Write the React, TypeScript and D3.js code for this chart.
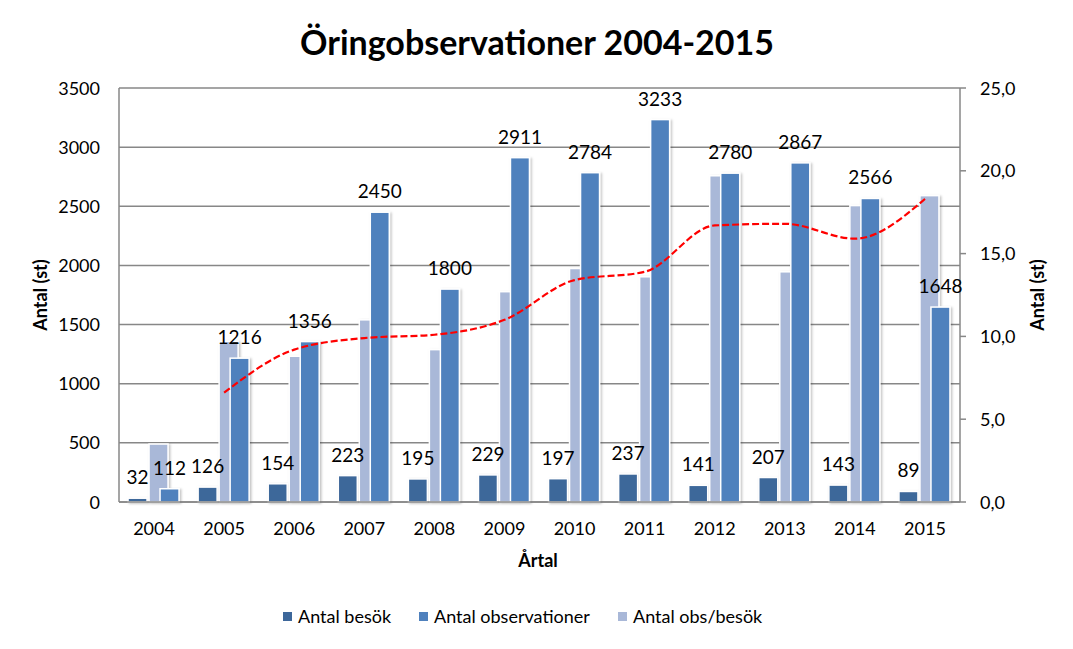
import React from "react";
import * as d3 from "d3";

const years = ["2004", "2005", "2006", "2007", "2008", "2009", "2010", "2011", "2012", "2013", "2014", "2015"];
const besok = [32, 126, 154, 223, 195, 229, 197, 237, 141, 207, 143, 89];
const observationer = [112, 1216, 1356, 2450, 1800, 2911, 2784, 3233, 2780, 2867, 2566, 1648];
const obsPerBesok = [3.5, 9.7, 8.8, 11.0, 9.2, 12.7, 14.1, 13.6, 19.7, 13.9, 17.9, 18.5];
const trendYears = ["2005", "2006", "2007", "2008", "2009", "2010", "2011", "2012", "2013", "2014", "2015"];
const trend = [6.6, 9.2, 9.9, 10.1, 11.0, 13.4, 13.9, 16.7, 16.8, 15.9, 18.3];
const leftTicks = [0, 500, 1000, 1500, 2000, 2500, 3000, 3500];
const rightTicks = [0, 5, 10, 15, 20, 25];
const seriesNames = ["Antal besök", "Antal observationer", "Antal obs/besök"];

const W = 1073;
const H = 649;
const FONT = "Lato, 'Open Sans', sans-serif";
const C_DARK = "#3D679A";
const C_MED = "#4F81BD";
const C_LIGHT = "#A9B8D8";
const GRID = "#878787";

export default function App() {
  const left = 119;
  const right = 960;
  const top = 88;
  const bottom = 502;
  const x = d3.scaleBand<string>().domain(years).range([left, right]).padding(0);
  const yL = d3.scaleLinear().domain([0, 3500]).range([bottom, top]);
  const yR = d3.scaleLinear().domain([0, 25]).range([bottom, top]);
  const cx = (yr: string) => (x(yr) as number) + x.bandwidth() / 2;
  const bw = 19;

  const line = d3
    .line<number>()
    .x((_, i) => cx(trendYears[i]))
    .y((d) => yR(d))
    .curve(d3.curveMonotoneX);

  const colors = [C_DARK, C_MED, C_LIGHT];
  const legendX = [283, 419, 618];

  return (
    <svg width={W} height={H} style={{ position: "absolute", left: 0, top: 0, background: "#fff" }} fontFamily={FONT}>
      <defs>
        <filter id="sh" x="-20%" y="-5%" width="150%" height="115%">
          <feDropShadow dx={1.5} dy={1} stdDeviation={1} floodColor="#000" floodOpacity={0.25} />
        </filter>
      </defs>
      <rect x={0} y={0} width={W} height={H} fill="#fff" />
      <text x={537} y={55} textAnchor="middle" fontSize={34} fontWeight="bold" fill="#000">
        Öringobservationer 2004-2015
      </text>

      {/* gridlines */}
      {leftTicks.map((t) => (
        <line key={"g" + t} x1={left} x2={right} y1={yL(t)} y2={yL(t)} stroke={GRID} strokeWidth={1.5} />
      ))}
      <line x1={left} x2={left} y1={top} y2={bottom} stroke={GRID} strokeWidth={1.5} />
      <line x1={right} x2={right} y1={top} y2={bottom} stroke={GRID} strokeWidth={1.5} />
      {rightTicks.map((t) => (
        <line key={"rt" + t} x1={right} x2={right + 6} y1={yR(t)} y2={yR(t)} stroke={GRID} strokeWidth={1.5} />
      ))}

      {/* tick labels */}
      {leftTicks.map((t) => (
        <text key={"lt" + t} x={100} y={yL(t) + 6.5} textAnchor="end" fontSize={18} fill="#000">
          {t}
        </text>
      ))}
      {rightTicks.map((t) => (
        <text key={"rl" + t} x={980} y={yR(t) + 6.5} textAnchor="start" fontSize={18} fill="#000">
          {d3.format(".1f")(t).replace(".", ",")}
        </text>
      ))}

      {/* axis titles */}
      <text transform={`translate(47,295) rotate(-90)`} textAnchor="middle" fontSize={18} fontWeight="bold" fill="#000">
        Antal (st)
      </text>
      <text transform={`translate(1044,295) rotate(-90)`} textAnchor="middle" fontSize={18} fontWeight="bold" fill="#000">
        Antal (st)
      </text>

      {/* bars */}
      {years.map((yr, i) => {
        const c = cx(yr);
        return (
          <g key={yr} filter="url(#sh)">
            <rect x={c - 26} y={yL(besok[i])} width={bw} height={bottom - yL(besok[i])} fill={C_DARK} stroke="#fff" strokeWidth={1.5} />
            <rect x={c - 5} y={yR(obsPerBesok[i])} width={bw} height={bottom - yR(obsPerBesok[i])} fill={C_LIGHT} stroke="#fff" strokeWidth={1.5} />
            <rect x={c + 6} y={yL(observationer[i])} width={bw} height={bottom - yL(observationer[i])} fill={C_MED} stroke="#fff" strokeWidth={1.5} />
          </g>
        );
      })}
      <line x1={left} x2={right} y1={bottom} y2={bottom} stroke={GRID} strokeWidth={1.5} />

      {/* trend line */}
      <path d={line(trend) || ""} fill="none" stroke="#FF0000" strokeWidth={2.2} strokeDasharray="7,3" />

      {/* data labels */}
      {years.map((yr, i) => {
        const c = cx(yr);
        return (
          <g key={"lab" + yr}>
            <text x={c - 16.5} y={yL(besok[i]) - 14} textAnchor="middle" fontSize={19} fill="#000">
              {besok[i]}
            </text>
            <text x={c + 15.5} y={yL(observationer[i]) - 14} textAnchor="middle" fontSize={19} fill="#000">
              {observationer[i]}
            </text>
          </g>
        );
      })}

      {/* x labels */}
      {years.map((yr) => (
        <text key={"xl" + yr} x={cx(yr)} y={535} textAnchor="middle" fontSize={18} fill="#000">
          {yr}
        </text>
      ))}
      <text x={538} y={567} textAnchor="middle" fontSize={18} fontWeight="bold" fill="#000">
        Årtal
      </text>

      {/* legend */}
      {seriesNames.map((n, i) => (
        <g key={n}>
          <rect x={legendX[i]} y={612} width={9} height={9} fill={colors[i]} />
          <text x={legendX[i] + 15} y={623} fontSize={18} fill="#000">
            {n}
          </text>
        </g>
      ))}
    </svg>
  );
}
